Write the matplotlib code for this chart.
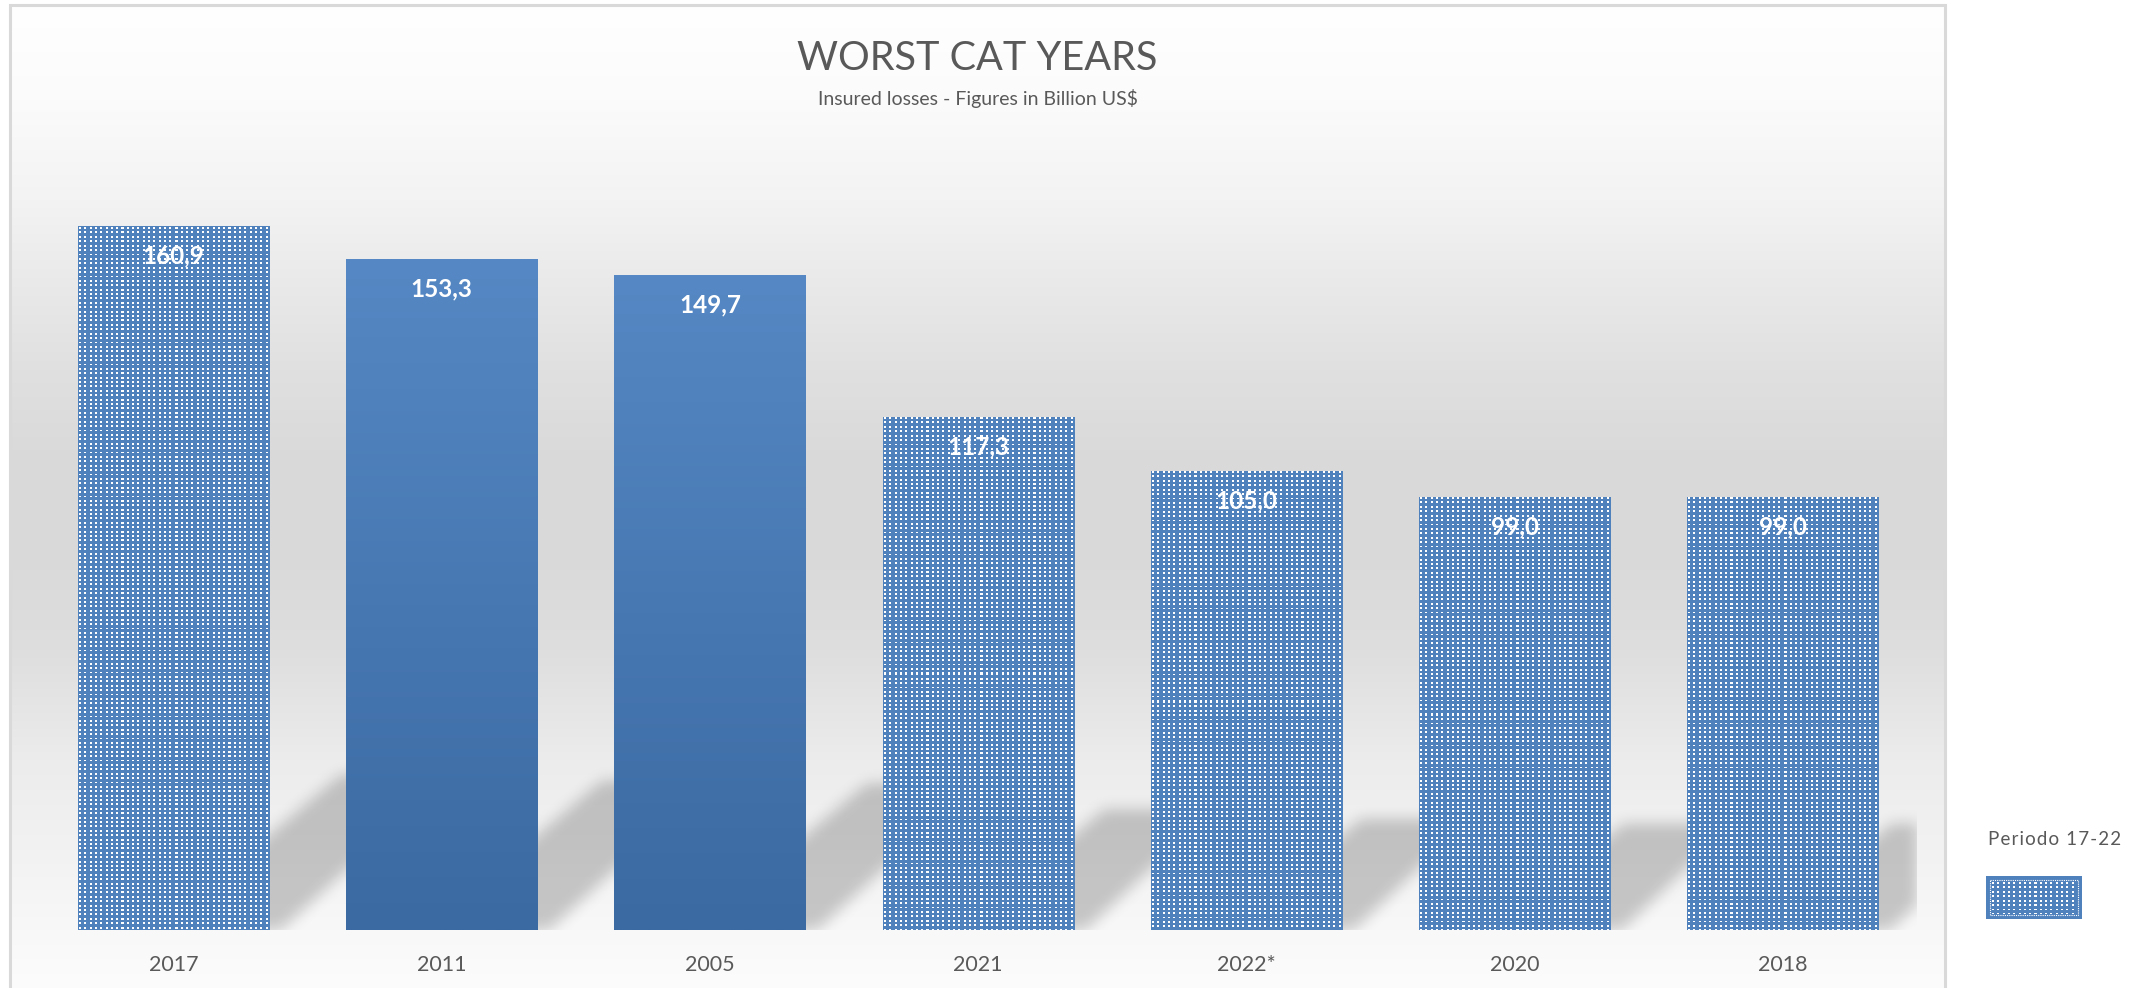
import numpy as np
import matplotlib
matplotlib.use("Agg")
import matplotlib.pyplot as plt
from matplotlib.patches import Polygon, Rectangle
from matplotlib.collections import PatchCollection

# ---- data ----
years = ["2017", "2011", "2005", "2021", "2022*", "2020", "2018"]
losses = [160.9, 153.3, 149.7, 117.3, 105.0, 99.0, 99.0]
in_period = [True, False, False, True, True, True, True]
legend_label = "Periodo 17-22"
title = "WORST CAT YEARS"
subtitle = "Insured losses - Figures in Billion US$"

# ---- styling ----
W, H, DPI = 2156, 988, 100
BLUE = "#4f81bd"
GREY_TXT = "#595959"
plt.rcParams["font.family"] = ["Lato", "DejaVu Sans"]

fig = plt.figure(figsize=(W / DPI, H / DPI), dpi=DPI)
fig.patch.set_facecolor("white")


def grid_texture(h_px, w_px, px=5.3, py=4.4):
    """Blue fill with a regular grid of small white squares, one cell per pixel."""
    cols = np.arange(w_px) + 0.5
    rows = np.arange(h_px) + 0.5
    fx = (cols / px) % 1.0
    fy = (rows / py) % 1.0
    white = ((fy[:, None] >= 0.25) & (fy[:, None] < 0.7)) & \
            ((fx[None, :] >= 0.2) & (fx[None, :] < 0.6))
    img = np.empty((h_px, w_px, 3))
    img[:] = np.array([0x4f, 0x81, 0xbd]) / 255
    img[white] = 1.0
    return img


# background canvas in pixel coordinates (gradient wall + frame)
bg = fig.add_axes([0, 0, 1, 1], zorder=0)
bg.axis("off")
FRAME_L, FRAME_R, FRAME_T = 10, 1945, 5
rows = np.arange(FRAME_T, H)
stops_y = [5, 100, 200, 260, 370, 450, 550, 650, 760, 850, 930, 988]
stops_v = [255, 251, 243, 236, 224, 218, 217, 222, 236, 242, 248, 252]
g = np.interp(rows, stops_y, stops_v) / 255.0
grad = np.repeat(g[:, None], 2, axis=1)
bg.imshow(np.dstack([grad] * 3), extent=(FRAME_L, FRAME_R, H, FRAME_T),
          aspect="auto", interpolation="bilinear", zorder=0)
bg.plot([FRAME_L, FRAME_L, FRAME_R, FRAME_R], [H + 5, FRAME_T, FRAME_T, H + 5],
        color="#d9d9d9", lw=2.2, zorder=1, solid_joinstyle="miter")

# legend swatch and label
sw_x, sw_y, sw_w, sw_h = 1986, 876, 96, 43
bg.add_patch(Rectangle((sw_x, sw_y), sw_w, sw_h, facecolor=BLUE, edgecolor="none", zorder=2))
inner = grid_texture(sw_h - 10, sw_w - 10)
bg.add_patch(Rectangle((sw_x + 4, sw_y + 4), sw_w - 8, sw_h - 8, facecolor="none",
                       edgecolor="white", lw=0.8, linestyle=(0, (1, 1)), zorder=3))
bg.imshow(inner, extent=(sw_x + 5, sw_x + sw_w - 5, sw_y + sw_h - 5, sw_y + 5),
          interpolation="nearest", aspect="auto", zorder=2.5)
bg.set_xlim(0, W)
bg.set_ylim(H, 0)
fig.text(1988 / W, 1 - 839 / H, "\u200a".join(legend_label), ha="left", va="center",
         fontsize=13.5, color=GREY_TXT)

# ---- main chart axes ----
ax_l, ax_r, ax_b, ax_t = 39.5, 1917, 930, 5
ax = fig.add_axes([ax_l / W, (H - ax_b) / H, (ax_r - ax_l) / W, (ax_b - ax_t) / H],
                  zorder=1)
ax.patch.set_visible(False)
for s in ax.spines.values():
    s.set_visible(False)
x = np.arange(len(years))
ax.set_xlim(-0.5, len(years) - 0.5)
ax.set_ylim(0, (ax_b - ax_t) / 4.375)
ax.set_yticks([])

# pixel scale of the data axes
p0 = ax.transData.transform((0, 0))
p1 = ax.transData.transform((1, 1))
ppc, ppv = p1[0] - p0[0], p1[1] - p0[1]


def shadow_filter(sigma, alpha):
    r = int(3 * sigma)
    kx = np.arange(-r, r + 1)
    k = np.exp(-0.5 * (kx / sigma) ** 2)
    k /= k.sum()

    def f(im, dpi):
        src = np.pad(im[:, :, 3], r)
        n0, n1 = src.shape
        p = np.pad(src, r)
        t = sum(w * p[j:j + n0, :] for j, w in enumerate(k))
        t = sum(w * t[:, j:j + n1] for j, w in enumerate(k))
        # keep the clipped right edge and the floor line crisp
        t[:, n1 - r:] = 0
        t[n0 - r:, :] = 0
        out = np.zeros((n0, n1, 4))
        out[:, :, 3] = t * alpha
        return out, -r, -r
    return f


# perspective shadows cast up and to the right of each bar
polys = []
for i, v in zip(x, losses):
    hs_px = 0.181 * v * ppv + 28
    shift = 1.2 * hs_px / ppc
    hs = hs_px / ppv
    pts = [(i - 0.07, 0), (i + 0.40, 0), (i + 0.40 + shift - 0.06, hs),
           (i - 0.07 + shift, hs)]
    polys.append(Polygon(pts, closed=True))
pc = PatchCollection(polys, facecolor="black", edgecolor="none", zorder=1)
pc.set_agg_filter(shadow_filter(7, 0.2))
ax.add_collection(pc)

# bars
BAR_W = 0.713
bars = ax.bar(x, losses, width=BAR_W, zorder=3)
top_c = np.array([0x55, 0x88, 0xc4]) / 255
bot_c = np.array([0x3b, 0x69, 0xa1]) / 255
tt = np.linspace(0, 1, 256)[:, None, None]
bar_grad = (1 - tt) * top_c + tt * bot_c
for b, i, v, p in zip(bars, x, losses, in_period):
    ext = (i - BAR_W / 2, i + BAR_W / 2, 0, v)
    b.set_linewidth(0)
    if p:
        b.set_facecolor(BLUE)
        w_px = int(round(BAR_W * ppc))
        h_px = int(round(v * ppv))
        im = ax.imshow(grid_texture(h_px, w_px), extent=ext, aspect="auto",
                       zorder=3.1, interpolation="nearest")
    else:
        b.set_facecolor("#4a7ab5")
        im = ax.imshow(bar_grad, extent=ext, aspect="auto", zorder=3.1,
                       interpolation="bilinear")
    im.set_clip_path(b)
    ax.annotate(f"{v:.1f}".replace(".", ","), xy=(i, v), xytext=(0, -30),
                textcoords="offset pixels", ha="center", va="center",
                color="white", fontsize=17.5, fontweight="bold", zorder=5)

ax.set_xlim(-0.5, len(years) - 0.5)
ax.set_ylim(0, (ax_b - ax_t) / 4.375)
ax.set_xticks(x, years)
ax.tick_params(axis="x", length=0, pad=18, labelsize=15.5, labelcolor=GREY_TXT)

# titles
cx = (FRAME_L + FRAME_R) / 2 / W
fig.text(cx, 1 - 59 / H, title, ha="center", va="center", fontsize=28.5,
         color=GREY_TXT)
fig.text(cx, 1 - 99 / H, subtitle, ha="center", va="center", fontsize=14,
         color=GREY_TXT)

fig.savefig("out.png", dpi=DPI)
